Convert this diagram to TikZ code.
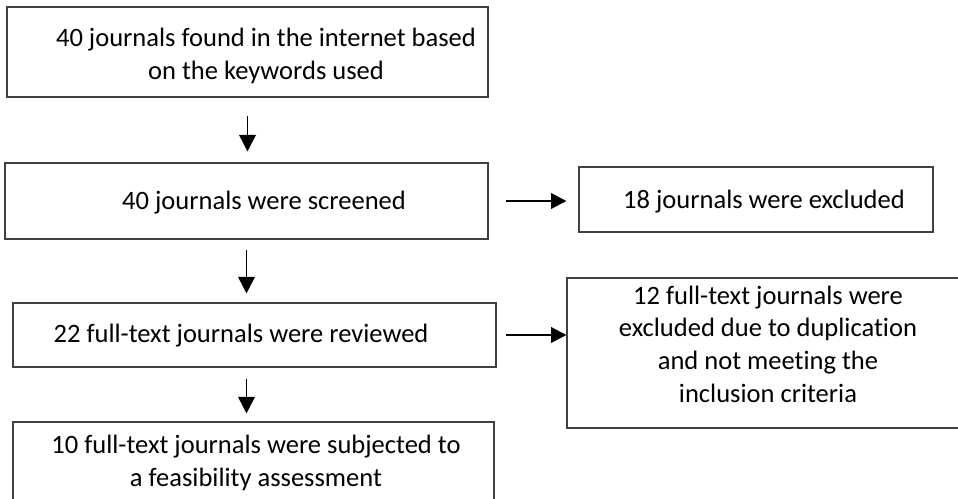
\documentclass[tikz,border=0pt]{standalone}
\usepackage{fontspec}
\setmainfont{Carlito}[Ligatures=NoCommon]
\usepackage{tikz}
\usetikzlibrary{positioning, arrows.meta}

\begin{document}
\begin{tikzpicture}[x=0.75pt, y=-0.75pt,
  box/.style={draw=black!75, line width=0.8pt, inner sep=0pt},
  txt/.style={align=center, inner sep=0pt, font=\fontsize{19.9}{24.5}\selectfont},
  down/.style={line width=1.2pt, -{Triangle[width=12.5pt,length=12.5pt]}},
  side/.style={line width=1.8pt, -{Triangle[width=11.5pt,length=11.5pt]}}]
  \useasboundingbox (0,0) rectangle (958,499);
  \clip (0,0) rectangle (958,499);

  % boxes
  \node[box, minimum width=360.75pt, minimum height=67.5pt] (found) at (247.5,52) {};
  \node[box, minimum width=362.25pt, minimum height=57pt] (screened) at (246.5,201) {};
  \node[box, minimum width=265.5pt, minimum height=48.75pt] (excl1) at (756,199.5) {};
  \node[box, minimum width=362.25pt, minimum height=48pt] (reviewed) at (254.5,335) {};
  \node[box, minimum width=309.75pt, minimum height=112.5pt] (excl2) at (773.5,353) {};
  \node[box, minimum width=360.75pt, minimum height=73.5pt] (assessed) at (253.5,471) {};

  % texts
  \node[txt] (foundtxt) at (266,56) {40 journals found in the internet based\\on the keywords used};
  \node[txt] (screenedtxt) at (264,203) {40 journals were screened};
  \node[txt] (excl1txt) at (764,202) {18 journals were excluded};
  \node[txt] (reviewedtxt) at (241,336) {22 full-text journals were reviewed};
  \node[txt] (excl2txt) at (768,344) {12 full-text journals were\\excluded due to duplication\\and not meeting the\\inclusion criteria};
  \node[txt] (assessedtxt) at (256,463) {10 full-text journals were subjected to\\a feasibility assessment};

  % arrows
  \draw[down, shorten <=13.5pt, shorten >=8.25pt]
      (found.south) -- (found.south |- screened.north);
  \draw[down, shorten <=7.5pt, shorten >=6.75pt]
      (screened.south) -- (screened.south |- reviewed.north);
  \draw[down, shorten <=8.25pt, shorten >=6pt]
      (reviewed.south -| screened.south) -- (assessed.north -| screened.south);
  \draw[side, shorten <=12.75pt, shorten >=9pt]
      (screened.east) -- (screened.east -| excl1.west);
  \draw[side, shorten <=6.75pt]
      (reviewed.east) -- (reviewed.east -| excl2.west);

\end{tikzpicture}
\end{document}
